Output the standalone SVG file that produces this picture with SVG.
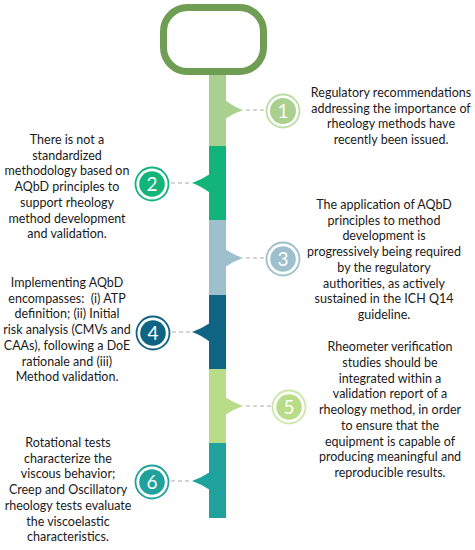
<svg xmlns="http://www.w3.org/2000/svg" width="475" height="550" viewBox="0 0 475 550">
<style>
.t{font-family:Lato,"Liberation Sans",sans-serif;font-size:12.5px;fill:#1a1a1a;text-anchor:middle}
.n{font-family:Lato,"Liberation Sans",sans-serif;font-size:19px;fill:#fff;text-anchor:middle}
.d{stroke:#c8c8c8;stroke-width:1.6;stroke-dasharray:4 3;fill:none}
.ring{fill:none;stroke-width:1.8}
</style>
<rect width="475" height="550" fill="#fff"/>
<g id="top">
<rect x="163.5" y="7.5" width="100" height="64" rx="24" fill="#fff" stroke="#6e9d53" stroke-width="7"/>
</g>
<g id="connectors">
<line class="d" x1="246" y1="110" x2="266" y2="110"/>
<line class="d" x1="171" y1="183" x2="190" y2="183"/>
<line class="d" x1="246" y1="258" x2="266" y2="258"/>
<line class="d" x1="172" y1="332" x2="190" y2="332"/>
<line class="d" x1="246" y1="406" x2="271" y2="406"/>
<line class="d" x1="171" y1="481" x2="190" y2="481"/>
</g>
<g id="seg1">
<rect x="209" y="75" width="17" height="71" fill="#a9d08e"/>
<path d="M225 100 Q234 107 243 110 Q234 113 225 119 Z" fill="#a9d08e"/>
<circle cx="283" cy="111" r="16.5" class="ring" stroke="#bcdca6"/>
<circle cx="283" cy="111" r="13" fill="#a9d08e"/>
<text class="n" x="283" y="118">1</text>
<text class="t" y="97"><tspan x="391">Regulatory recommendations</tspan><tspan x="391" dy="15.7">addressing the importance of</tspan><tspan x="391" dy="15.7">rheology methods have</tspan><tspan x="391" dy="15.7">recently been issued.</tspan></text>
</g>
<g id="seg2">
<rect x="209" y="146" width="17" height="74" fill="#12b47a"/>
<path d="M210 174 Q201 180 192 183 Q201 186 210 193 Z" fill="#12b47a"/>
<circle cx="152" cy="184" r="16.5" class="ring" stroke="#12b47a"/>
<circle cx="152" cy="184" r="12.8" fill="#12b47a"/>
<text class="n" x="152" y="191">2</text>
<text class="t" y="144"><tspan x="67">There is not a</tspan><tspan x="67" dy="15.7">standardized</tspan><tspan x="67" dy="15.7">methodology based on</tspan><tspan x="67" dy="15.7">AQbD principles to</tspan><tspan x="67" dy="15.7">support rheology</tspan><tspan x="67" dy="15.7">method development</tspan><tspan x="67" dy="15.7">and validation.</tspan></text>
</g>
<g id="seg3">
<rect x="209" y="220" width="17" height="75" fill="#9dc0cc"/>
<path d="M225 249 Q234 255 243 258 Q234 261 225 267 Z" fill="#9dc0cc"/>
<circle cx="283" cy="259" r="16.5" class="ring" stroke="#9dc0cc"/>
<circle cx="283" cy="259" r="12.8" fill="#9dc0cc"/>
<text class="n" x="283" y="266">3</text>
<text class="t" y="209"><tspan x="384">The application of AQbD</tspan><tspan x="384" dy="15.7">principles to method</tspan><tspan x="384" dy="15.7">development is</tspan><tspan x="384" dy="15.7">progressively being required</tspan><tspan x="384" dy="15.7">by the regulatory</tspan><tspan x="384" dy="15.7">authorities, as actively</tspan><tspan x="384" dy="15.7">sustained in the ICH Q14</tspan><tspan x="384" dy="15.7">guideline.</tspan></text>
</g>
<g id="seg4">
<rect x="209" y="295" width="17" height="74" fill="#0e6482"/>
<path d="M210 323 Q201 329 192 332 Q201 335 210 342 Z" fill="#0e6482"/>
<circle cx="153" cy="333" r="16.5" class="ring" stroke="#0e6482"/>
<circle cx="153" cy="333" r="12.8" fill="#0e6482"/>
<text class="n" x="153" y="340">4</text>
<text class="t" y="287"><tspan x="67">Implementing AQbD</tspan><tspan x="67" dy="15.7">encompasses:&#160; (i) ATP</tspan><tspan x="67" dy="15.7">definition; (ii) Initial</tspan><tspan x="67" dy="15.7">risk analysis (CMVs and</tspan><tspan x="67" dy="15.7">CAAs), following a DoE</tspan><tspan x="67" dy="15.7">rationale and (iii)</tspan><tspan x="67" dy="15.7">Method validation.</tspan></text>
</g>
<g id="seg5">
<rect x="209" y="369" width="17" height="74" fill="#b8dc88"/>
<path d="M225 397 Q234 403 243 406 Q234 409 225 415 Z" fill="#b8dc88"/>
<circle cx="289" cy="407" r="16.5" class="ring" stroke="#cbe6a8"/>
<circle cx="289" cy="407" r="12.8" fill="#b8dc88"/>
<text class="n" x="289" y="414">5</text>
<text class="t" y="351"><tspan x="390">Rheometer verification</tspan><tspan x="390" dy="15.75">studies should be</tspan><tspan x="390" dy="15.75">integrated within a</tspan><tspan x="390" dy="15.75">validation report of a</tspan><tspan x="390" dy="15.75">rheology method, in order</tspan><tspan x="390" dy="15.75">to ensure that the</tspan><tspan x="390" dy="15.75">equipment is capable of</tspan><tspan x="390" dy="15.75">producing meaningful and</tspan><tspan x="390" dy="15.75">reproducible results.</tspan></text>
</g>
<g id="seg6">
<rect x="209" y="443" width="17" height="75" fill="#1fa19c"/>
<path d="M210 472 Q201 478 192 481 Q201 484 210 490 Z" fill="#1fa19c"/>
<circle cx="152" cy="482" r="16.5" class="ring" stroke="#1fa19c"/>
<circle cx="152" cy="482" r="12.8" fill="#1fa19c"/>
<text class="n" x="152" y="489">6</text>
<text class="t" y="447"><tspan x="68">Rotational tests</tspan><tspan x="68" dy="15.7">characterize the</tspan><tspan x="68" dy="15.7">viscous behavior;</tspan><tspan x="68" dy="15.7">Creep and Oscillatory</tspan><tspan x="68" dy="15.7">rheology tests evaluate</tspan><tspan x="68" dy="15.7">the viscoelastic</tspan><tspan x="68" dy="15.7">characteristics.</tspan></text>
</g>
</svg>
